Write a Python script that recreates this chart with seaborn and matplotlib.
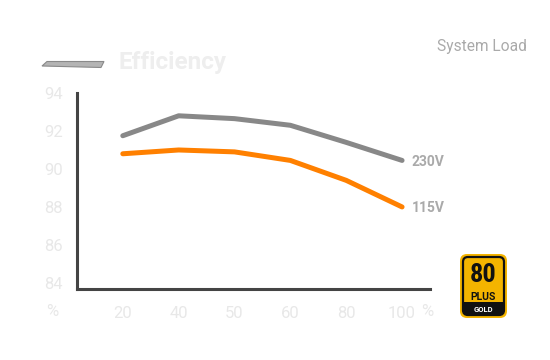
import matplotlib
matplotlib.use("Agg")
import matplotlib.pyplot as plt
import seaborn as sns
import pandas as pd
from matplotlib.patches import FancyBboxPatch, Polygon, Rectangle

# charge système (%)
charges = ["20", "40", "50", "60", "80", "100"]
eff_230 = [91.75, 92.8, 92.65, 92.3, 91.4, 90.45]
eff_115 = [90.8, 91.0, 90.9, 90.45, 89.4, 88.0]
y_ticks = [84, 86, 88, 90, 92, 94]

sns.set_theme(style="white")
plt.rcParams["font.family"] = ["Roboto", "DejaVu Sans"]

df = pd.DataFrame({
    "charge": charges * 2,
    "eff": eff_230 + eff_115,
    "tension": ["230V"] * len(charges) + ["115V"] * len(charges),
})
couleurs = {"230V": "#888888", "115V": "#ff8000"}

fig = plt.figure(figsize=(5.5, 3.6), dpi=100)
ax = fig.add_axes([77 / 550, 1 - 289 / 360, 353 / 550, 196 / 360])

sns.lineplot(data=df, x="charge", y="eff", hue="tension", palette=couleurs,
             linewidth=3.6, ax=ax, legend=False, sort=False)

ax.set_xlim(-0.82, 5.5)
ax.set_ylim(83.68, 94)
ax.set_yticks(y_ticks)
ax.set_xticks(range(len(charges)))
ax.set_xticklabels(charges)
ax.set_xlabel("")
ax.set_ylabel("")
ax.tick_params(axis="both", length=0, labelsize=12, labelcolor="#e8e8e8")
ax.tick_params(axis="x", pad=12)
ax.tick_params(axis="y", pad=10)

for s in ["top", "right"]:
    ax.spines[s].set_visible(False)
for s in ["left", "bottom"]:
    ax.spines[s].set_color("#444444")
    ax.spines[s].set_linewidth(2.2)

# étiquettes des séries
for nom, vals in [("230V", eff_230), ("115V", eff_115)]:
    ax.annotate(nom, xy=(len(charges) - 1, vals[-1]), xytext=(7, -1),
                textcoords="offset points", va="center", ha="left",
                fontsize=10, fontweight="bold", color="#aaaaaa")

# unité %
fig.text(421 / 550, 1 - 311 / 360, "%", fontsize=12, color="#e8e8e8",
         ha="left", va="center")
fig.text(52 / 550, 1 - 311 / 360, "%", fontsize=12, color="#e8e8e8",
         ha="center", va="center")

# titre
fig.text(119 / 550, 1 - 63 / 360, "Efficiency", fontsize=17.5, fontweight="bold",
         color="#eeeeee", ha="left", va="center")
barre = Polygon([[42 / 550, 1 - 66 / 360], [47 / 550, 1 - 61.5 / 360],
                 [104 / 550, 1 - 61.5 / 360], [101 / 550, 1 - 67.5 / 360]],
                closed=True, transform=fig.transFigure, facecolor="#b4b4b4",
                edgecolor="#8a8a8a", linewidth=0.8)
fig.patches.append(barre)

fig.text(527 / 550, 1 - 47 / 360, "System Load", fontsize=11.2, color="#aaaaaa",
         ha="right", va="center")

# badge 80 PLUS GOLD
bx = fig.add_axes([459 / 550, 1 - 319 / 360, 49 / 550, 66 / 360])
bx.set_xlim(0, 49)
bx.set_ylim(0, 66)
bx.axis("off")
bx.add_patch(FancyBboxPatch((1, 1), 47, 64, boxstyle="round,pad=0,rounding_size=7",
                            facecolor="#f4b400", edgecolor="none"))
bx.add_patch(FancyBboxPatch((4, 4), 41, 58, boxstyle="round,pad=0,rounding_size=5",
                            facecolor="#f4b400", edgecolor="#111111", linewidth=1.6))
bx.add_patch(FancyBboxPatch((4, 4), 41, 12, boxstyle="round,pad=0,rounding_size=4",
                            facecolor="#111111", edgecolor="none"))
bx.add_patch(Rectangle((4, 11), 41, 6, facecolor="#111111", edgecolor="none"))
bx.text(24.5, 44, "80", fontsize=19, fontweight="bold", color="#111111",
        ha="center", va="center", fontfamily=["Roboto Condensed", "Roboto", "DejaVu Sans"])
bx.text(24.5, 22.5, "PLUS", fontsize=7.5, fontweight="bold", color="#111111",
        ha="center", va="center")
bx.text(24.5, 10, "GOLD", fontsize=5.5, fontweight="bold", color="white",
        ha="center", va="center")

fig.savefig("out.png", dpi=100)
